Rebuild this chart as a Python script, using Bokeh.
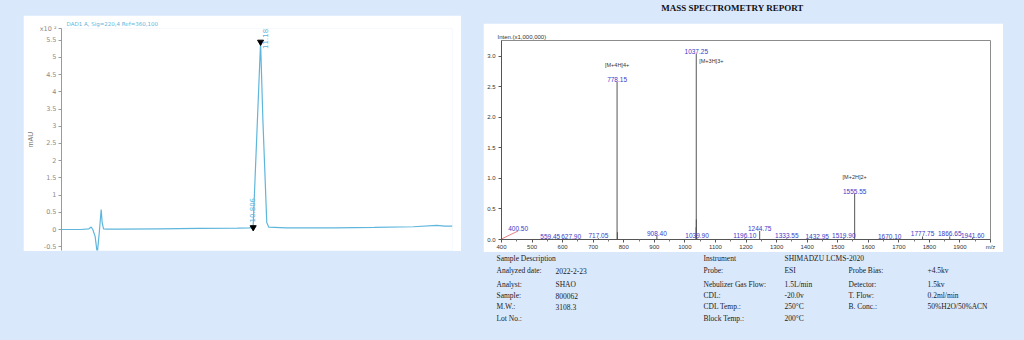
import numpy as np
from bokeh.plotting import figure
from bokeh.models import Range1d, FixedTicker, Spacer
from bokeh.layouts import row, column
from bokeh.core.properties import value
from bokeh.embed import file_html
from bokeh.resources import INLINE

BG = "#DAE8FC"

# ---------------- data: chromatogram ----------------
chrom_time = [1.0, 2.0, 2.4, 2.52, 2.6, 2.72, 2.83, 2.93, 3.03, 3.08, 3.15, 3.3, 4.0, 6.0,
              8.0, 10.0, 10.6, 10.8, 11.183, 11.3, 11.5, 11.6, 12.5, 15.0, 17.0, 19.0,
              20.2, 20.6, 21.0]
chrom_mau = [0.0, 0.0, 0.02, 0.07, 0.0, -0.2, -0.7, -0.1, 0.58, 0.2, 0.02, 0.01, 0.01,
             0.02, 0.03, 0.04, 0.05, 0.06, 5.45, 3.2, 0.2, 0.07, 0.05, 0.05, 0.06, 0.08,
             0.12, 0.1, 0.1]
chrom_peak_times = [10.806, 11.183]
chrom_peak_heights = [0.06, 5.45]
chrom_peak_labels = ["10.806", "11.183"]
chrom_yticks = [-0.5, 0, 0.5, 1, 1.5, 2, 2.5, 3, 3.5, 4, 4.5, 5, 5.5]
chrom_scale_text = "x10 \u00b2"

# ---------------- data: mass spectrum ----------------
ms_mz = [400.50, 559.45, 627.90, 717.05, 778.15, 779.40, 908.40, 1036.90, 1037.25,
         1037.60, 1039.90, 1196.10, 1244.75, 1333.55, 1432.95, 1519.90, 1555.55,
         1670.10, 1777.75, 1866.65, 1941.60]
ms_int = [0.01, 0.01, 0.01, 0.02, 2.58, 0.12, 0.06, 0.2, 3.04, 0.33, 0.02, 0.02, 0.14,
          0.02, 0.01, 0.03, 0.75, 0.01, 0.05, 0.05, 0.03]
ms_label = ["400.50", "559.45", "627.90", "717.05", "778.15", "", "908.40", "", "1037.25",
            "", "1039.90", "1196.10", "1244.75", "1333.55", "1432.95", "1519.90", "1555.55",
            "1670.10", "1777.75", "1866.65", "1941.60"]
ion_mz = [778.15, 1037.25, 1555.55]
ion_int = [2.58, 3.04, 0.75]
ion_text = ["[M+4H]4+", "[M+3H]3+", "[M+2H]2+"]
ms_xticks = list(range(400, 2001, 100))
ms_yticks = [0.0, 0.5, 1.0, 1.5, 2.0, 2.5, 3.0]

# ---------------- data: report table ----------------
info_labels1 = ["Sample Description", "Analyzed date:", "Analyst:", "Sample:", "M.W.:", "Lot No.:"]
info_values1 = ["", "2022-2-23", "SHAO", "800062", "3108.3", ""]
info_labels2 = ["Instrument", "Probe:", "Nebulizer Gas Flow:", "CDL:", "CDL Temp.:", "Block Temp.:"]
info_values2 = ["SHIMADZU LCMS-2020", "ESI", "1.5L/min", "-20.0v", "250\u00b0C", "200\u00b0C"]
info_labels3 = ["", "Probe Bias:", "Detector:", "T. Flow:", "B. Conc.:", ""]
info_values3 = ["", "+4.5kv", "1.5kv", "0.2ml/min", "50%H2O/50%ACN", ""]

# ================= left: chromatogram =================
TRACE = "#5FB6DC"
Y_TOP = 5.84
pL = figure(width=438, height=236, x_range=Range1d(1, 21), y_range=Range1d(-0.61, Y_TOP),
            x_axis_type=None, output_backend="svg", toolbar_location=None,
            min_border_left=35, min_border_right=9, min_border_top=13, min_border_bottom=1,
            background_fill_color="white", border_fill_color="white", outline_line_color=None)
pL.ygrid.grid_line_color = None
pL.title.text = "DAD1 A, Sig=220,4 Ref=360,100"
pL.title.text_font_size = "5.5px"
pL.title.text_font_style = "normal"
pL.title.text_color = TRACE
pL.title.text_font = "DejaVu Sans"
pL.title.offset = 5
pL.title.standoff = 3
ya = pL.yaxis[0]
ya.ticker = FixedTicker(ticks=chrom_yticks + [Y_TOP])
overrides = {t: ("%g" % t) for t in chrom_yticks}
overrides[Y_TOP] = chrom_scale_text
ya.major_label_overrides = overrides
ya.major_label_text_font_size = "6.5px"
ya.major_label_text_color = "#8a8a8a"
ya.major_label_text_font = "DejaVu Sans"
ya.major_tick_out = 3
ya.major_tick_in = 0
ya.minor_tick_out = 0
ya.minor_tick_in = 0
ya.axis_line_color = "#9a9a9a"
ya.major_tick_line_color = "#9a9a9a"
ya.major_label_standoff = 2
ya.axis_label = "mAU"
ya.axis_label_text_font_size = "7px"
ya.axis_label_text_font_style = "normal"
ya.axis_label_text_color = "#777777"
ya.axis_label_standoff = 3

pL.line(chrom_time, chrom_mau, line_color=TRACE, line_width=1.2)
pL.scatter(chrom_peak_times, chrom_peak_heights, marker="inverted_triangle", size=6,
           color="black")
pL.text(chrom_peak_times, chrom_peak_heights, text=chrom_peak_labels, angle=np.pi / 2,
        x_offset=[-1, 4], y_offset=[-5, 7], text_align="left", text_baseline="middle",
        text_font_size="7px", text_color=TRACE, text_font=value("DejaVu Sans"))

# ================= right: mass spectrum =================
SANS = "Liberation Sans"
pR = figure(width=520, height=229, x_range=Range1d(400, 2000), y_range=Range1d(0, 3.26),
            output_backend="svg", toolbar_location=None,
            min_border_left=18, min_border_right=13, min_border_top=17, min_border_bottom=12,
            background_fill_color="white", border_fill_color="white",
            outline_line_color="#8c8c8c", outline_line_width=1)
pR.grid.grid_line_color = None
pR.title.text = "Inten.(x1,000,000)"
pR.title.text_font_size = "6px"
pR.title.text_font_style = "normal"
pR.title.text_font = SANS
pR.title.text_color = "#333333"
pR.title.offset = -4
pR.title.standoff = 1
xa = pR.xaxis[0]
xa.ticker = FixedTicker(ticks=ms_xticks, minor_ticks=list(range(450, 2000, 100)))
xa.major_label_overrides = {2000: "m/z"}
ya2 = pR.yaxis[0]
ya2.ticker = FixedTicker(ticks=ms_yticks)
ya2.major_label_overrides = {t: "%.1f" % t for t in ms_yticks}
for ax in (xa, ya2):
    ax.major_label_text_font_size = "6px"
    ax.major_label_text_font = SANS
    ax.major_label_text_color = "#333333"
    ax.major_tick_out = 3
    ax.major_tick_in = 0
    ax.minor_tick_out = 2
    ax.minor_tick_in = 0
    ax.axis_line_color = "#555555"
    ax.major_tick_line_color = "#555555"
    ax.minor_tick_line_color = "#777777"
    ax.major_label_standoff = 1
ya2.minor_tick_out = 0
ya2.major_label_standoff = 3

pR.segment(x0=ms_mz, y0=[0] * len(ms_mz), x1=ms_mz, y1=ms_int, line_color="#555555",
           line_width=1)
lab_idx = [i for i, s in enumerate(ms_label) if s]
lab_x = [ms_mz[i] for i in lab_idx]
lab_y = [ms_int[i] for i in lab_idx]
lab_t = [ms_label[i] for i in lab_idx]
# the 400.50 label is pulled aside with a leader line
shift = {"400.50": (54.0, 0.13)}
lab_x = [x + shift.get(t, (0, 0))[0] for x, t in zip(lab_x, lab_t)]
lab_y = [y + shift.get(t, (0, 0))[1] for y, t in zip(lab_y, lab_t)]
pR.segment(x0=[ms_mz[0]], y0=[ms_int[0]], x1=[lab_x[0]], y1=[lab_y[0]],
           line_color="#e06060", line_width=0.8)
pR.text(lab_x, lab_y, text=lab_t, text_align="center", text_baseline="bottom",
        y_offset=0, text_font_size="6.5px", text_color="#3a3ac8", text_font=value(SANS))
pR.text(ion_mz, ion_int, text=ion_text, text_align=["center", "left", "center"],
        text_baseline=["bottom", "top", "bottom"], x_offset=[0, 3, 0], y_offset=[-14, 4, -14],
        text_font_size="5.5px", text_color="#333333", text_font=value(SANS))

# ================= title and table =================
pT = figure(width=544, height=23, x_range=Range1d(0, 544), y_range=Range1d(23, 0),
            x_axis_type=None, y_axis_type=None, output_backend="svg", toolbar_location=None,
            min_border=0, background_fill_color=BG, border_fill_color=BG,
            outline_line_color=None)
pT.grid.visible = False
pT.text([252], [7], text=["MASS SPECTROMETRY REPORT"], text_align="center",
        text_baseline="middle", text_font_size="9px", text_font_style="bold",
        text_color="#111111", text_font=value("Liberation Serif"))

row_y = [6, 18, 32, 43, 54, 66]
col_x = [16, 75, 223, 304, 368, 447]
pI = figure(width=544, height=88, x_range=Range1d(0, 544), y_range=Range1d(88, 0),
            x_axis_type=None, y_axis_type=None, output_backend="svg", toolbar_location=None,
            min_border=0, background_fill_color=BG, border_fill_color=BG,
            outline_line_color=None)
pI.grid.visible = False
for cx, col in zip(col_x, [info_labels1, info_values1, info_labels2, info_values2,
                           info_labels3, info_values3]):
    pI.text([cx] * len(col), row_y, text=col, text_align="left", text_baseline="middle",
            text_font_size="7.5px", text_color="#1a1a1a", text_font=value("Liberation Serif"))

left_col = column(Spacer(width=480, height=15),
                  row(Spacer(width=23, height=236), pL, Spacer(width=19, height=236)),
                  Spacer(width=480, height=89))
right_col = column(pT,
                   row(Spacer(width=3, height=229), pR, Spacer(width=21, height=229)),
                   pI)
root = row(left_col, right_col, styles={"background-color": BG})

html = file_html(root, INLINE)
html = html.replace("<body>", '<body style="margin:0;background:%s">' % BG)
open("out.html", "w").write(html)
